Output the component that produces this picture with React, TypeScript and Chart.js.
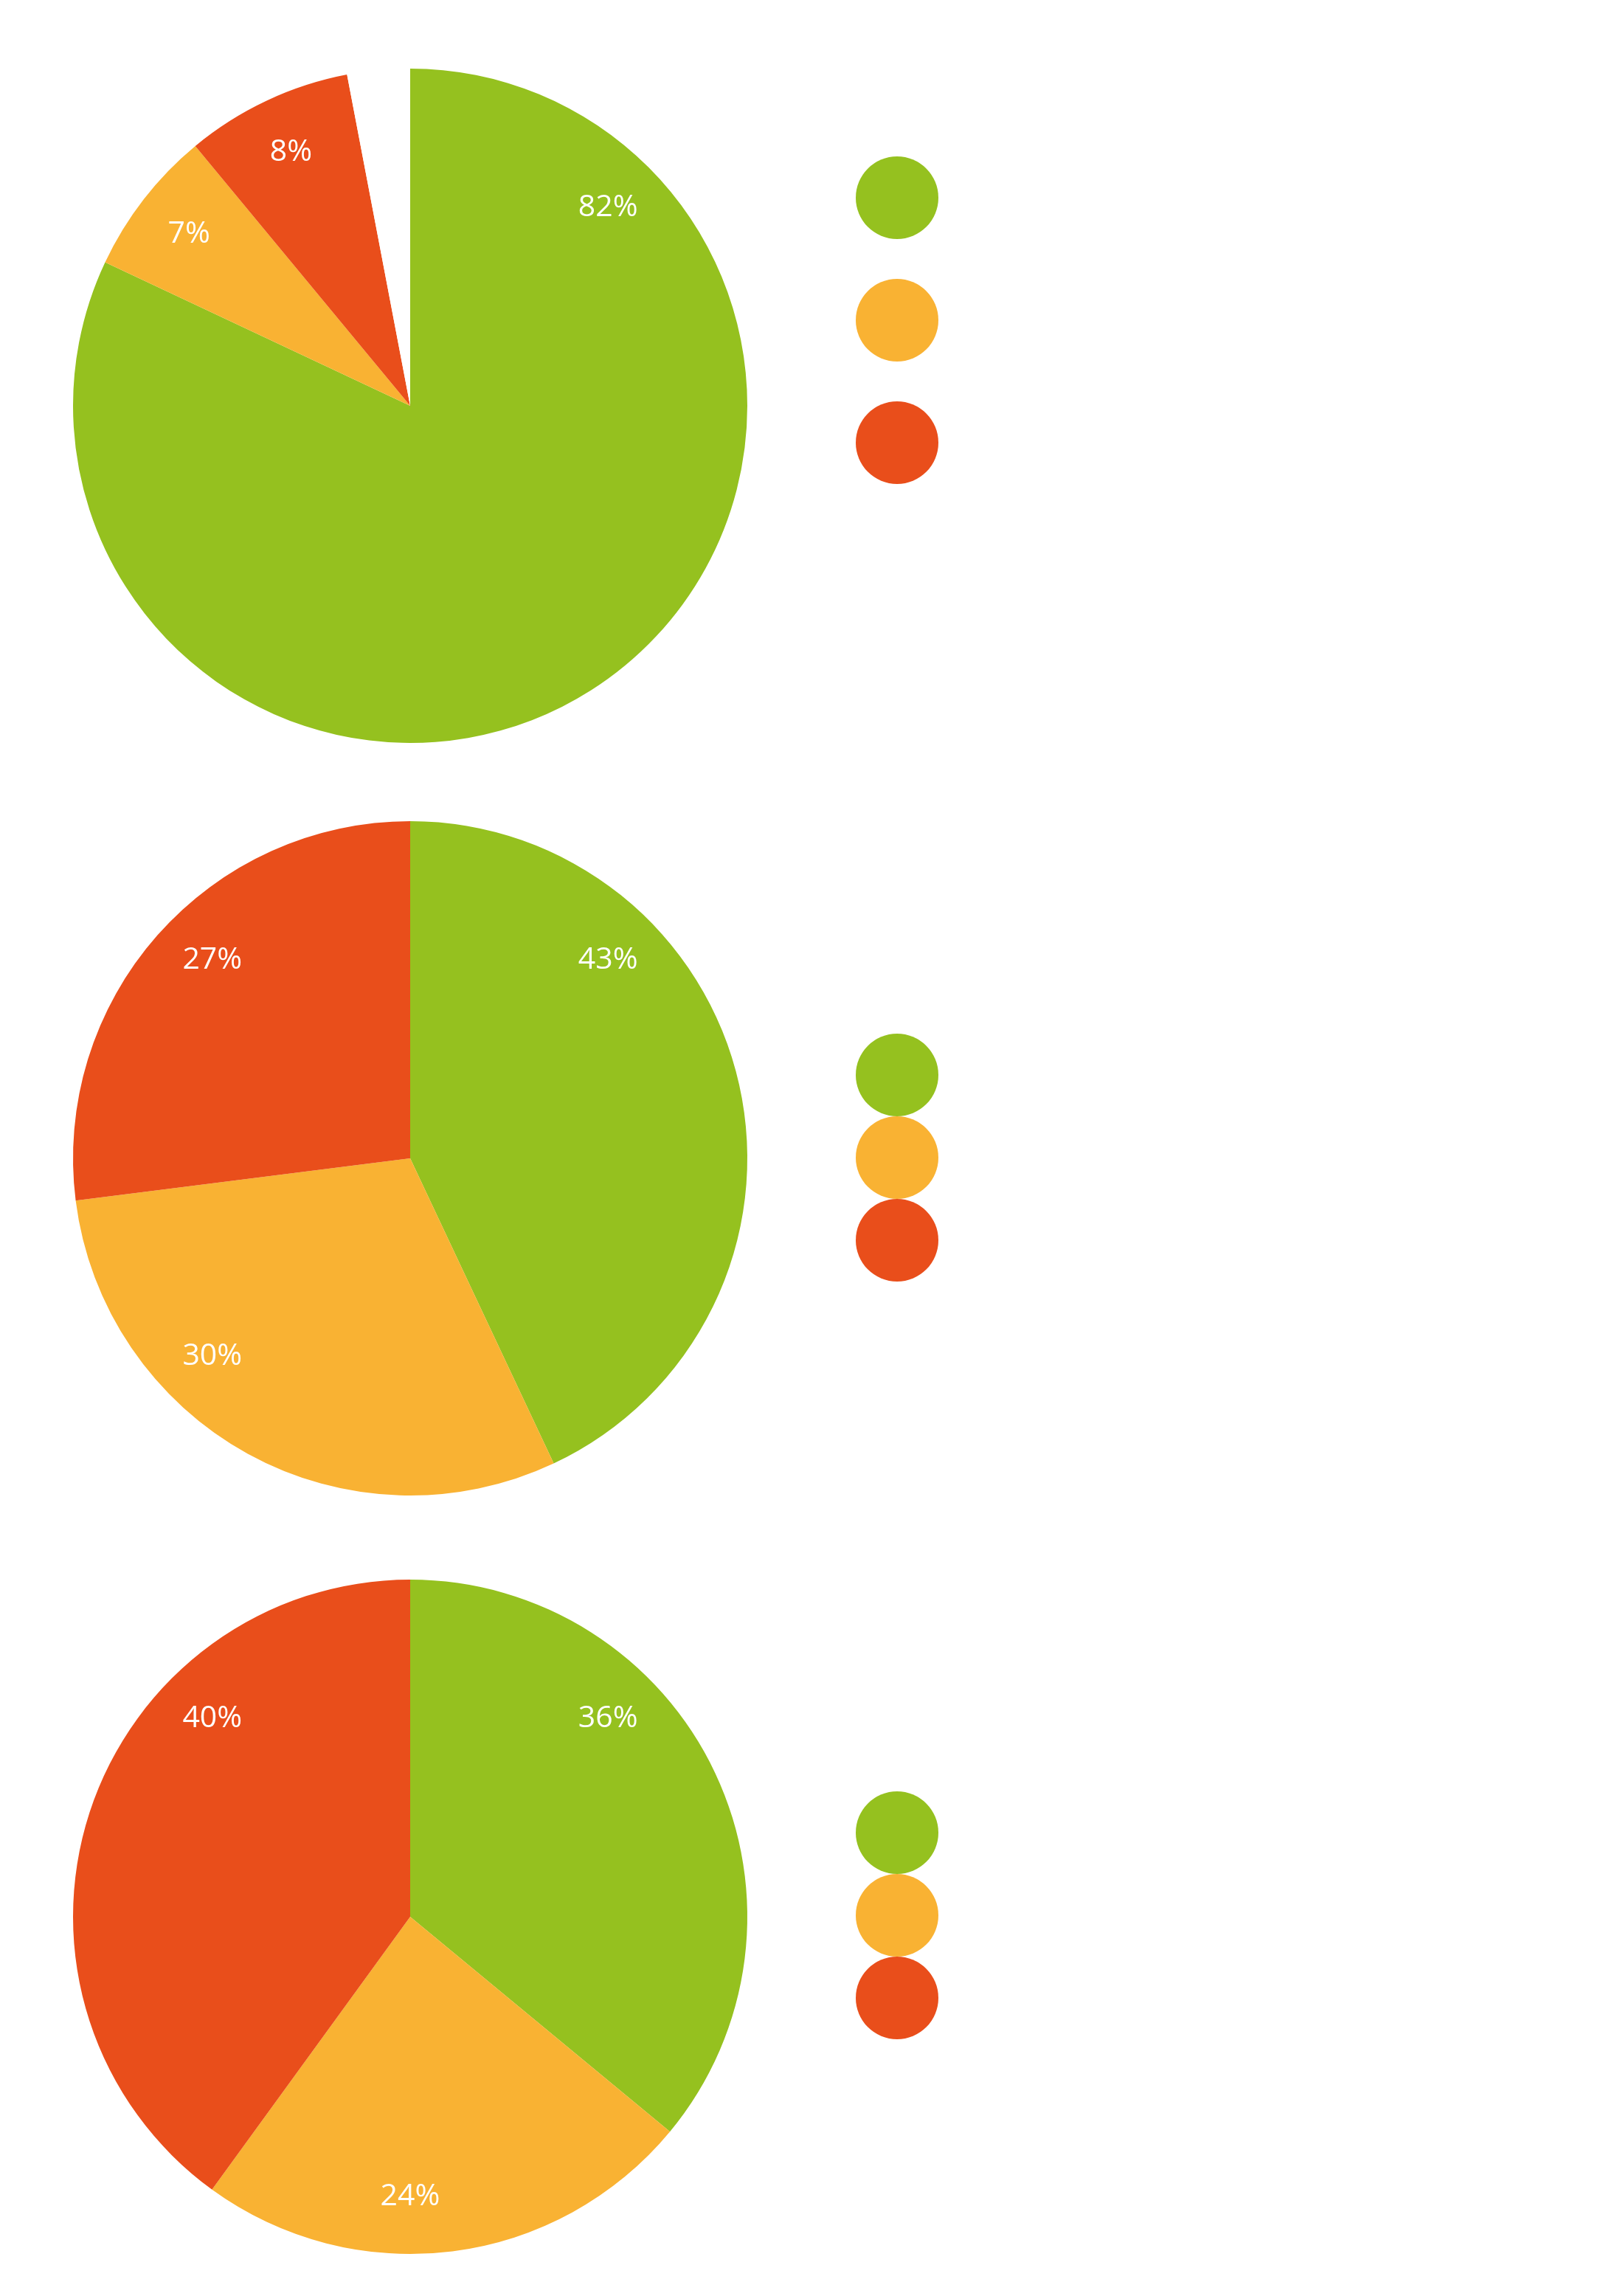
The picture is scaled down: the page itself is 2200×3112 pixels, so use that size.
import React, { useEffect, useRef } from "react";
import { Chart, registerables } from "chart.js";

Chart.register(...registerables);

// ---- data ----
const categories = ["Option 1", "Option 2", "Option 3"];
const sliceColors = ["#95C11F", "#F9B233", "#E94E1B"];
const pie1Values = [82, 7, 8];
const pie2Values = [43, 30, 27];
const pie3Values = [36, 24, 40];

function labelAngle(s: number, e: number): number {
  const margin = 10;
  for (const d of [45, 135, 225, 315]) {
    if (d >= s + margin && d <= e - margin) return d;
  }
  const mid = (s + e) / 2;
  let best = mid;
  let bestDist = Infinity;
  for (const d of [0, 90, 180, 270, 360]) {
    if (d >= s + margin && d <= e - margin) {
      const dist = Math.abs(d - mid);
      if (dist < bestDist) {
        bestDist = dist;
        best = d;
      }
    }
  }
  return best;
}

const sliceLabelsPlugin = {
  id: "sliceLabels",
  afterDatasetsDraw(chart: any, _args: any, opts: any) {
    const meta = chart.getDatasetMeta(0);
    const ds = chart.data.datasets[0];
    const ctx = chart.ctx;
    ctx.save();
    ctx.fillStyle = "#ffffff";
    ctx.font = "400 41px 'Open Sans'";
    ctx.textAlign = "center";
    ctx.textBaseline = "middle";
    meta.data.forEach((arc: any, i: number) => {
      if (i >= opts.count) return;
      const p = arc.getProps(["startAngle", "endAngle", "x", "y", "outerRadius"], true);
      const s = ((p.startAngle + Math.PI / 2) * 180) / Math.PI;
      const e = ((p.endAngle + Math.PI / 2) * 180) / Math.PI;
      const a = labelAngle(s, e);
      const rad = (a * Math.PI) / 180;
      const r = p.outerRadius * 0.83;
      ctx.fillText(ds.data[i] + "%", p.x + r * Math.sin(rad), p.y - r * Math.cos(rad));
    });
    ctx.restore();
  },
};

const dotLegendPlugin = {
  id: "dotLegend",
  afterDraw(chart: any, _args: any, opts: any) {
    const meta = chart.getDatasetMeta(0);
    const arc = meta.data[0];
    if (!arc) return;
    const p = arc.getProps(["x", "y", "outerRadius"], true);
    const ctx = chart.ctx;
    ctx.save();
    for (let i = 0; i < opts.count; i++) {
      ctx.beginPath();
      ctx.fillStyle = sliceColors[i];
      ctx.arc(p.x + opts.dx, p.y + opts.top + i * opts.gap, opts.r, 0, Math.PI * 2);
      ctx.fill();
    }
    ctx.restore();
  },
};

function PieChart({ values, top, legendTop, legendGap }: { values: number[]; top: number; legendTop: number; legendGap: number }) {
  const ref = useRef<HTMLCanvasElement | null>(null);
  useEffect(() => {
    if (!ref.current) return;
    const sum = values.reduce((a, b) => a + b, 0);
    const remainder = Math.max(0, 100 - sum);
    const data = remainder > 0 ? [...values, remainder] : [...values];
    const colors = remainder > 0 ? [...sliceColors, "#ffffff"] : [...sliceColors];
    const labels = remainder > 0 ? [...categories, ""] : [...categories];
    const chart = new Chart(ref.current, {
      type: "pie",
      data: {
        labels,
        datasets: [
          {
            data,
            backgroundColor: colors,
            borderWidth: 0,
          },
        ],
      },
      options: {
        responsive: false,
        animation: false,
        events: [],
        layout: { padding: { left: 99, top: 43, bottom: 43, right: 387 } },
        plugins: {
          legend: { display: false },
          tooltip: { enabled: false },
          sliceLabels: { count: values.length },
          dotLegend: { count: values.length, dx: 660, top: legendTop, gap: legendGap, r: 56 },
        } as any,
      },
      plugins: [sliceLabelsPlugin, dotLegendPlugin],
    });
    return () => chart.destroy();
  }, [values, legendTop, legendGap]);
  return (
    <canvas
      ref={ref}
      width={1400}
      height={1000}
      style={{ position: "absolute", left: 0, top, width: 1400, height: 1000 }}
    />
  );
}

export default function App() {
  return (
    <div style={{ position: "absolute", left: 0, top: 0, width: 2200, height: 3112, background: "#ffffff" }}>
      <PieChart values={pie1Values} top={50} legendTop={-282} legendGap={166} />
      <PieChart values={pie2Values} top={1070} legendTop={-113} legendGap={112} />
      <PieChart values={pie3Values} top={2098} legendTop={-114} legendGap={112} />
    </div>
  );
}
